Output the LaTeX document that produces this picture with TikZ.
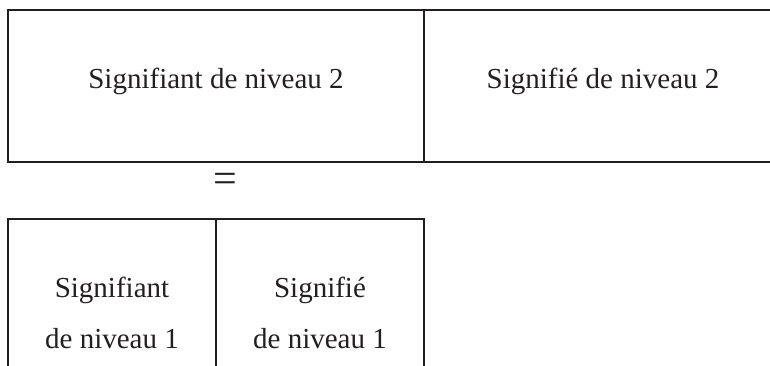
\documentclass[tikz,border=0pt]{standalone}
\usepackage{fontspec}
\setmainfont{Liberation Serif}
\definecolor{ink}{HTML}{231F20}
\tikzset{
  cell/.style={draw=ink, line width=2.2pt, rectangle, inner sep=0pt},
  lbl/.style={text=ink, font=\fontsize{29}{35}\selectfont, inner sep=0pt, anchor=base},
  eqlbl/.style={text=ink, font=\fontsize{42}{48}\selectfont, inner sep=0pt, anchor=center}
}
\begin{document}
\begin{tikzpicture}[x=1pt,y=-1pt]
\useasboundingbox (0,0) rectangle (770,365);
\clip (0,0) rectangle (770,365);
% cells
\node[cell, minimum width=416pt, minimum height=152pt] (c2a) at (216,86) {};
\node[cell, minimum width=356pt, minimum height=152pt] (c2b) at (602,86) {};
\node[cell, minimum width=208pt, minimum height=200pt] (c1a) at (112,319) {};
\node[cell, minimum width=208pt, minimum height=200pt] (c1b) at (320,319) {};
% labels
\node[lbl] (t2a) at (216,88) {Signifiant de niveau 2};
\node[lbl] (t2b) at (603,88) {Signifié de niveau 2};
\node[eqlbl] (eq) at (225,183) {=};
\node[lbl] (t1a1) at (112,297) {Signifiant};
\node[lbl] (t1a2) at (112,348) {de niveau 1};
\node[lbl] (t1b1) at (320,297) {Signifié};
\node[lbl] (t1b2) at (320,348) {de niveau 1};
\end{tikzpicture}
\end{document}
